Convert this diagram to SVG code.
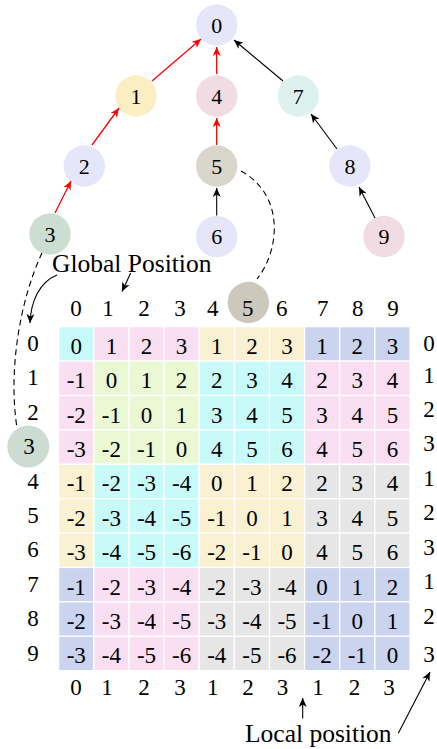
<svg xmlns="http://www.w3.org/2000/svg" width="437" height="749" viewBox="0 0 437 749" font-family="'Liberation Serif', 'DejaVu Serif', serif">
<style>
text, tspan { font-family: 'Liberation Serif', 'DejaVu Serif', serif; fill: #000; }
.n text{font-size:22px;text-anchor:middle}
.g text{font-size:23px;text-anchor:middle}
.lab{font-size:25.5px}
.red{stroke:#ff0000;stroke-width:1.3;fill:none}
.blk{stroke:#000;stroke-width:1.1;fill:none}
.dash{stroke:#000;stroke-width:1.1;fill:none;stroke-dasharray:6 4}
.lav{fill:#e6e6fa}
.cy{fill:#c8fafa}.pk{fill:#fadef2}.ye{fill:#faf0d2}.bl{fill:#cad4ee}.gr{fill:#eaf8d4}.gy{fill:#e6e6e6}
.cells rect{stroke:#fff;stroke-width:1.2}
</style>
<defs>
<marker id="ar" markerUnits="userSpaceOnUse" markerWidth="12" markerHeight="10" viewBox="-10 -5 12 10" refX="0" refY="0" orient="auto"><path d="M0,0 L-9,-4 L-6.5,0 L-9,4 z" fill="#ff0000"/></marker>
<marker id="ab" markerUnits="userSpaceOnUse" markerWidth="12" markerHeight="10" viewBox="-10 -5 12 10" refX="0" refY="0" orient="auto"><path d="M0,0 L-9,-4 L-6.5,0 L-9,4 z" fill="#000"/></marker>
</defs>

<g class="n">
<g id="node0"><circle cx="216.7" cy="25" r="20.7" class="lav"/><text x="216.7" y="32.8">0</text></g>
<g id="node1"><circle cx="136" cy="96" r="20.7" fill="#fbeec2"/><text x="136" y="103.8">1</text></g>
<g id="node4"><circle cx="216.7" cy="96" r="20.7" fill="#f2dce4"/><text x="216.7" y="103.8">4</text></g>
<g id="node7"><circle cx="298.3" cy="96" r="20.7" fill="#ddf2ef"/><text x="298.3" y="103.8">7</text></g>
<g id="node2"><circle cx="84.3" cy="166" r="20.7" class="lav"/><text x="84.3" y="173.8">2</text></g>
<g id="node5"><circle cx="216.7" cy="166" r="20.7" fill="#d9d6cb"/><text x="216.7" y="173.8">5</text></g>
<g id="node8"><circle cx="350" cy="166" r="20.7" class="lav"/><text x="350" y="173.8">8</text></g>
<g id="node3"><circle cx="50" cy="234" r="20.7" fill="#ccddd1"/><text x="50" y="241.8">3</text></g>
<g id="node6"><circle cx="216.7" cy="236.5" r="20.7" class="lav"/><text x="216.7" y="244.3">6</text></g>
<g id="node9"><circle cx="384" cy="236.5" r="20.7" fill="#f2dce4"/><text x="384" y="244.3">9</text></g>
</g>

<g id="connectors">
<path class="red" d="M152,81 L201,39" marker-end="url(#ar)"/>
<path class="red" d="M216.7,74 L216.7,47" marker-end="url(#ar)"/>
<path class="blk" d="M283,81 L234,40" marker-end="url(#ab)"/>
<path class="red" d="M92,145 L119,108" marker-end="url(#ar)"/>
<path class="red" d="M216.7,145 L216.7,118" marker-end="url(#ar)"/>
<path class="blk" d="M337,149 L311,114" marker-end="url(#ab)"/>
<path class="red" d="M55,213 L71,181" marker-end="url(#ar)"/>
<path class="blk" d="M216.7,215.5 L216.7,188" marker-end="url(#ab)"/>
<path class="blk" d="M375,218 L359,187" marker-end="url(#ab)"/>
<path class="dash" d="M241,171 C285,195 280,250 257,279"/>
<path class="dash" d="M42,253 C20,300 8,370 17,428"/>
<path class="blk" d="M57,275 C40,282 31,300 30,323" marker-end="url(#ab)"/>
<path class="blk" d="M130.7,273 L122,291.5" marker-end="url(#ab)"/>
<path class="blk" d="M302.7,718.5 L302.7,698" marker-end="url(#ab)"/>
<path class="blk" d="M398.3,733.3 L430,672" marker-end="url(#ab)"/>
</g>

<g id="labels">
<text class="lab" x="52" y="271.5">Global Position</text>
<text class="lab" x="245" y="741.5">Local position</text>
</g>

<g id="matrix" class="g">
<g class="cells">
<rect class="cy" x="58.7" y="326.7" width="35.13" height="34.4"/>
<rect class="pk" x="93.83" y="326.7" width="35.13" height="34.4"/><rect class="pk" x="128.96" y="326.7" width="35.13" height="34.4"/><rect class="pk" x="164.09" y="326.7" width="35.13" height="34.4"/>
<rect class="ye" x="199.22" y="326.7" width="35.13" height="34.4"/><rect class="ye" x="234.35" y="326.7" width="35.13" height="34.4"/><rect class="ye" x="269.48" y="326.7" width="35.13" height="34.4"/>
<rect class="bl" x="304.61" y="326.7" width="35.13" height="34.4"/><rect class="bl" x="339.74" y="326.7" width="35.13" height="34.4"/><rect class="bl" x="374.87" y="326.7" width="35.13" height="34.4"/>
</g>
<g class="cells">
<rect class="pk" x="58.7" y="361.1" width="35.13" height="34.4"/><rect class="pk" x="58.7" y="395.5" width="35.13" height="34.4"/><rect class="pk" x="58.7" y="429.9" width="35.13" height="34.4"/>
<rect class="ye" x="58.7" y="464.3" width="35.13" height="34.4"/><rect class="ye" x="58.7" y="498.7" width="35.13" height="34.4"/><rect class="ye" x="58.7" y="533.1" width="35.13" height="34.4"/>
<rect class="bl" x="58.7" y="567.5" width="35.13" height="34.4"/><rect class="bl" x="58.7" y="601.9" width="35.13" height="34.4"/><rect class="bl" x="58.7" y="636.3" width="35.13" height="34.4"/>
</g>
<g class="cells">
<rect class="gr" x="93.83" y="361.1" width="35.13" height="34.4"/><rect class="gr" x="128.96" y="361.1" width="35.13" height="34.4"/><rect class="gr" x="164.09" y="361.1" width="35.13" height="34.4"/>
<rect class="gr" x="93.83" y="395.5" width="35.13" height="34.4"/><rect class="gr" x="128.96" y="395.5" width="35.13" height="34.4"/><rect class="gr" x="164.09" y="395.5" width="35.13" height="34.4"/>
<rect class="gr" x="93.83" y="429.9" width="35.13" height="34.4"/><rect class="gr" x="128.96" y="429.9" width="35.13" height="34.4"/><rect class="gr" x="164.09" y="429.9" width="35.13" height="34.4"/>
<rect class="cy" x="199.22" y="361.1" width="35.13" height="34.4"/><rect class="cy" x="234.35" y="361.1" width="35.13" height="34.4"/><rect class="cy" x="269.48" y="361.1" width="35.13" height="34.4"/>
<rect class="cy" x="199.22" y="395.5" width="35.13" height="34.4"/><rect class="cy" x="234.35" y="395.5" width="35.13" height="34.4"/><rect class="cy" x="269.48" y="395.5" width="35.13" height="34.4"/>
<rect class="cy" x="199.22" y="429.9" width="35.13" height="34.4"/><rect class="cy" x="234.35" y="429.9" width="35.13" height="34.4"/><rect class="cy" x="269.48" y="429.9" width="35.13" height="34.4"/>
<rect class="pk" x="304.61" y="361.1" width="35.13" height="34.4"/><rect class="pk" x="339.74" y="361.1" width="35.13" height="34.4"/><rect class="pk" x="374.87" y="361.1" width="35.13" height="34.4"/>
<rect class="pk" x="304.61" y="395.5" width="35.13" height="34.4"/><rect class="pk" x="339.74" y="395.5" width="35.13" height="34.4"/><rect class="pk" x="374.87" y="395.5" width="35.13" height="34.4"/>
<rect class="pk" x="304.61" y="429.9" width="35.13" height="34.4"/><rect class="pk" x="339.74" y="429.9" width="35.13" height="34.4"/><rect class="pk" x="374.87" y="429.9" width="35.13" height="34.4"/>
</g>
<g class="cells">
<rect class="cy" x="93.83" y="464.3" width="35.13" height="34.4"/><rect class="cy" x="128.96" y="464.3" width="35.13" height="34.4"/><rect class="cy" x="164.09" y="464.3" width="35.13" height="34.4"/>
<rect class="cy" x="93.83" y="498.7" width="35.13" height="34.4"/><rect class="cy" x="128.96" y="498.7" width="35.13" height="34.4"/><rect class="cy" x="164.09" y="498.7" width="35.13" height="34.4"/>
<rect class="cy" x="93.83" y="533.1" width="35.13" height="34.4"/><rect class="cy" x="128.96" y="533.1" width="35.13" height="34.4"/><rect class="cy" x="164.09" y="533.1" width="35.13" height="34.4"/>
<rect class="ye" x="199.22" y="464.3" width="35.13" height="34.4"/><rect class="ye" x="234.35" y="464.3" width="35.13" height="34.4"/><rect class="ye" x="269.48" y="464.3" width="35.13" height="34.4"/>
<rect class="ye" x="199.22" y="498.7" width="35.13" height="34.4"/><rect class="ye" x="234.35" y="498.7" width="35.13" height="34.4"/><rect class="ye" x="269.48" y="498.7" width="35.13" height="34.4"/>
<rect class="ye" x="199.22" y="533.1" width="35.13" height="34.4"/><rect class="ye" x="234.35" y="533.1" width="35.13" height="34.4"/><rect class="ye" x="269.48" y="533.1" width="35.13" height="34.4"/>
<rect class="gy" x="304.61" y="464.3" width="35.13" height="34.4"/><rect class="gy" x="339.74" y="464.3" width="35.13" height="34.4"/><rect class="gy" x="374.87" y="464.3" width="35.13" height="34.4"/>
<rect class="gy" x="304.61" y="498.7" width="35.13" height="34.4"/><rect class="gy" x="339.74" y="498.7" width="35.13" height="34.4"/><rect class="gy" x="374.87" y="498.7" width="35.13" height="34.4"/>
<rect class="gy" x="304.61" y="533.1" width="35.13" height="34.4"/><rect class="gy" x="339.74" y="533.1" width="35.13" height="34.4"/><rect class="gy" x="374.87" y="533.1" width="35.13" height="34.4"/>
</g>
<g class="cells">
<rect class="pk" x="93.83" y="567.5" width="35.13" height="34.4"/><rect class="pk" x="128.96" y="567.5" width="35.13" height="34.4"/><rect class="pk" x="164.09" y="567.5" width="35.13" height="34.4"/>
<rect class="pk" x="93.83" y="601.9" width="35.13" height="34.4"/><rect class="pk" x="128.96" y="601.9" width="35.13" height="34.4"/><rect class="pk" x="164.09" y="601.9" width="35.13" height="34.4"/>
<rect class="pk" x="93.83" y="636.3" width="35.13" height="34.4"/><rect class="pk" x="128.96" y="636.3" width="35.13" height="34.4"/><rect class="pk" x="164.09" y="636.3" width="35.13" height="34.4"/>
<rect class="gy" x="199.22" y="567.5" width="35.13" height="34.4"/><rect class="gy" x="234.35" y="567.5" width="35.13" height="34.4"/><rect class="gy" x="269.48" y="567.5" width="35.13" height="34.4"/>
<rect class="gy" x="199.22" y="601.9" width="35.13" height="34.4"/><rect class="gy" x="234.35" y="601.9" width="35.13" height="34.4"/><rect class="gy" x="269.48" y="601.9" width="35.13" height="34.4"/>
<rect class="gy" x="199.22" y="636.3" width="35.13" height="34.4"/><rect class="gy" x="234.35" y="636.3" width="35.13" height="34.4"/><rect class="gy" x="269.48" y="636.3" width="35.13" height="34.4"/>
<rect class="bl" x="304.61" y="567.5" width="35.13" height="34.4"/><rect class="bl" x="339.74" y="567.5" width="35.13" height="34.4"/><rect class="bl" x="374.87" y="567.5" width="35.13" height="34.4"/>
<rect class="bl" x="304.61" y="601.9" width="35.13" height="34.4"/><rect class="bl" x="339.74" y="601.9" width="35.13" height="34.4"/><rect class="bl" x="374.87" y="601.9" width="35.13" height="34.4"/>
<rect class="bl" x="304.61" y="636.3" width="35.13" height="34.4"/><rect class="bl" x="339.74" y="636.3" width="35.13" height="34.4"/><rect class="bl" x="374.87" y="636.3" width="35.13" height="34.4"/>
</g>

<g id="cellvalues">
<text y="353.8"><tspan x="76.3">0</tspan><tspan x="111.4">1</tspan><tspan x="146.5">2</tspan><tspan x="181.6">3</tspan><tspan x="216.8">1</tspan><tspan x="251.9">2</tspan><tspan x="287">3</tspan><tspan x="322.1">1</tspan><tspan x="357.3">2</tspan><tspan x="392.4">3</tspan></text>
<text y="388.2"><tspan x="76.3">-1</tspan><tspan x="111.4">0</tspan><tspan x="146.5">1</tspan><tspan x="181.6">2</tspan><tspan x="216.8">2</tspan><tspan x="251.9">3</tspan><tspan x="287">4</tspan><tspan x="322.1">2</tspan><tspan x="357.3">3</tspan><tspan x="392.4">4</tspan></text>
<text y="422.6"><tspan x="76.3">-2</tspan><tspan x="111.4">-1</tspan><tspan x="146.5">0</tspan><tspan x="181.6">1</tspan><tspan x="216.8">3</tspan><tspan x="251.9">4</tspan><tspan x="287">5</tspan><tspan x="322.1">3</tspan><tspan x="357.3">4</tspan><tspan x="392.4">5</tspan></text>
<text y="457"><tspan x="76.3">-3</tspan><tspan x="111.4">-2</tspan><tspan x="146.5">-1</tspan><tspan x="181.6">0</tspan><tspan x="216.8">4</tspan><tspan x="251.9">5</tspan><tspan x="287">6</tspan><tspan x="322.1">4</tspan><tspan x="357.3">5</tspan><tspan x="392.4">6</tspan></text>
<text y="491.4"><tspan x="76.3">-1</tspan><tspan x="111.4">-2</tspan><tspan x="146.5">-3</tspan><tspan x="181.6">-4</tspan><tspan x="216.8">0</tspan><tspan x="251.9">1</tspan><tspan x="287">2</tspan><tspan x="322.1">2</tspan><tspan x="357.3">3</tspan><tspan x="392.4">4</tspan></text>
<text y="525.8"><tspan x="76.3">-2</tspan><tspan x="111.4">-3</tspan><tspan x="146.5">-4</tspan><tspan x="181.6">-5</tspan><tspan x="216.8">-1</tspan><tspan x="251.9">0</tspan><tspan x="287">1</tspan><tspan x="322.1">3</tspan><tspan x="357.3">4</tspan><tspan x="392.4">5</tspan></text>
<text y="560.2"><tspan x="76.3">-3</tspan><tspan x="111.4">-4</tspan><tspan x="146.5">-5</tspan><tspan x="181.6">-6</tspan><tspan x="216.8">-2</tspan><tspan x="251.9">-1</tspan><tspan x="287">0</tspan><tspan x="322.1">4</tspan><tspan x="357.3">5</tspan><tspan x="392.4">6</tspan></text>
<text y="594.6"><tspan x="76.3">-1</tspan><tspan x="111.4">-2</tspan><tspan x="146.5">-3</tspan><tspan x="181.6">-4</tspan><tspan x="216.8">-2</tspan><tspan x="251.9">-3</tspan><tspan x="287">-4</tspan><tspan x="322.1">0</tspan><tspan x="357.3">1</tspan><tspan x="392.4">2</tspan></text>
<text y="629"><tspan x="76.3">-2</tspan><tspan x="111.4">-3</tspan><tspan x="146.5">-4</tspan><tspan x="181.6">-5</tspan><tspan x="216.8">-3</tspan><tspan x="251.9">-4</tspan><tspan x="287">-5</tspan><tspan x="322.1">-1</tspan><tspan x="357.3">0</tspan><tspan x="392.4">1</tspan></text>
<text y="663.4"><tspan x="76.3">-3</tspan><tspan x="111.4">-4</tspan><tspan x="146.5">-5</tspan><tspan x="181.6">-6</tspan><tspan x="216.8">-4</tspan><tspan x="251.9">-5</tspan><tspan x="287">-6</tspan><tspan x="322.1">-2</tspan><tspan x="357.3">-1</tspan><tspan x="392.4">0</tspan></text>
</g>

<g id="node5-global"><circle cx="248.3" cy="302.5" r="20.7" fill="#ccc8bc"/></g>
<g id="node3-global"><circle cx="28.3" cy="446.5" r="21" fill="#cddcd2"/></g>

<g id="colheader">
<text y="315.5"><tspan x="76">0</tspan><tspan x="108">1</tspan><tspan x="144">2</tspan><tspan x="180">3</tspan><tspan x="212.7">4</tspan><tspan x="247.7">5</tspan><tspan x="281.7">6</tspan><tspan x="322.7">7</tspan><tspan x="357.7">8</tspan><tspan x="393">9</tspan></text>
</g>
<g id="rowheader">
<text x="33" y="351">0</text><text x="33" y="385.4">1</text><text x="33" y="419.8">2</text><text x="29" y="454.2">3</text><text x="33" y="488.6">4</text><text x="33" y="523">5</text><text x="33" y="557.4">6</text><text x="33" y="591.8">7</text><text x="33" y="626.2">8</text><text x="33" y="660.6">9</text>
</g>
<g id="rightlocal">
<text x="429" y="350.5">0</text><text x="429" y="382.5">1</text><text x="429" y="416.5">2</text><text x="429" y="450.5">3</text><text x="429" y="485.5">1</text><text x="429" y="519.5">2</text><text x="429" y="554.5">3</text><text x="429" y="588.5">1</text><text x="429" y="623.5">2</text><text x="429" y="661.5">3</text>
</g>
<g id="bottomlocal">
<text y="694.5"><tspan x="76">0</tspan><tspan x="107">1</tspan><tspan x="144">2</tspan><tspan x="180">3</tspan><tspan x="212.7">1</tspan><tspan x="248">2</tspan><tspan x="282.5">3</tspan><tspan x="318">1</tspan><tspan x="354.5">2</tspan><tspan x="389">3</tspan></text>
</g>
</g>
</svg>
